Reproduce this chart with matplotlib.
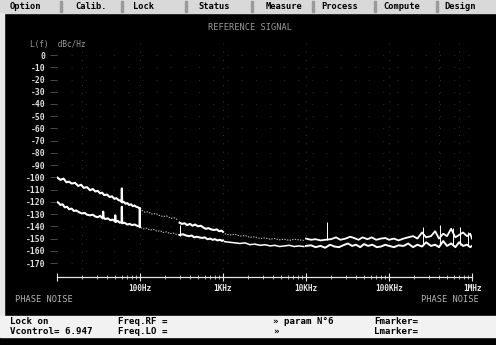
import numpy as np
import matplotlib.pyplot as plt
from matplotlib.patches import Rectangle
from matplotlib.ticker import FixedLocator, NullFormatter

# ---- trace data: offset frequency (Hz) and L(f) (dBc/Hz) ----
# upper trace, 10 Hz - 100 Hz
fa1 = [10, 11, 12, 13, 14, 15, 16.5, 18, 19.5, 21, 23, 25, 27, 29, 31, 33, 35, 37,
       40, 43, 46, 49, 52, 55, 58, 60, 60.4, 61, 64, 67, 70, 74, 78, 82, 86, 90, 95, 100]
la1 = [-100, -102, -101, -104, -103.5, -105, -104.5, -107, -106, -108.5, -108, -110.5,
       -109.5, -111.5, -111, -113, -112.5, -114.5, -114, -116, -115.5, -117.5, -117,
       -118.5, -119, -120, -109, -120.5, -120, -121.5, -121, -122.5, -122, -123.5, -123,
       -124, -124.5, -125.5]
# upper trace, 100 Hz - 300 Hz (dim)
fa2 = [105, 115, 125, 140, 155, 170, 190, 210, 235, 260, 290]
la2 = [-127, -128.5, -128, -130, -129.5, -131, -132, -131.5, -133.5, -133, -135]
# upper trace, 300 Hz - 1 kHz
fa3 = [300, 320, 345, 370, 400, 430, 460, 500, 540, 580, 620, 670, 720, 780, 840, 900, 960, 1000]
la3 = [-137, -138, -137.5, -139, -138, -139.5, -138.5, -140, -139.5, -141, -142, -141.5,
       -142.5, -143, -142.5, -144, -143.5, -144.5]
# upper trace, 1 kHz - 10 kHz (dim)
fa4 = [1050, 1200, 1400, 1600, 1850, 2100, 2400, 2800, 3200, 3700, 4200, 4800, 5500,
       6300, 7200, 8200, 9400]
la4 = [-146, -147, -146.5, -148, -147.5, -149, -148.5, -150, -149.5, -150.5, -150, -151,
       -150.5, -151.5, -150.5, -151, -151.5]
# upper trace, 10 kHz - 1 MHz
fa5 = [10000, 11500, 13000, 15000, 17000, 20000, 23000, 26000, 30000, 34000, 38000,
       43000, 48000, 55000, 62000, 70000, 80000, 90000, 100000, 115000, 130000, 150000,
       170000, 195000, 220000, 250000, 280000, 320000, 360000, 400000, 450000, 500000,
       560000, 630000, 700000, 780000, 870000, 950000, 1000000]
la5 = [-150, -151, -150.5, -151.5, -151, -150.5, -149, -151, -150, -148.5, -149.5, -151,
       -149, -150.5, -149, -151, -150, -149.5, -151, -150, -151.5, -150, -149, -148, -150,
       -145, -149, -148, -144, -150, -146, -148, -142, -149, -147, -145, -148, -146, -150]

# lower trace, 10 Hz - 100 Hz
fb1 = [10, 10.5, 11, 11.7, 12.4, 13.2, 14, 15, 16, 17, 18.5, 20, 21.5, 23, 25, 27, 29,
       31, 33, 35.5, 36, 36.5, 38, 41, 44, 47, 50, 50.3, 51, 54, 57, 60, 60.4, 61, 65,
       70, 75, 80, 86, 92, 96, 99, 99.5, 100]
lb1 = [-120, -121, -122.5, -122, -124.5, -124, -126, -125.5, -127.5, -127, -128.5,
       -129.5, -129, -130.5, -131, -130.5, -132, -132.5, -131.5, -133.5, -128, -133, -134,
       -133.5, -135, -134.5, -136, -131, -136.5, -135.5, -137, -136.5, -124, -137.5, -137,
       -138.5, -138, -139, -138.5, -139.5, -140, -139.5, -125, -140.5]
# lower trace, 100 Hz - 300 Hz (dim)
fb2 = [102, 110, 120, 132, 145, 160, 175, 190, 210, 230, 250, 275, 300]
lb2 = [-141, -142, -141.5, -143, -142.5, -144, -143.5, -145, -144.5, -146, -145.5,
       -146.5, -147]
# lower trace, 300 Hz - 1 kHz
fb3 = [300, 330, 360, 390, 420, 450, 480, 520, 560, 600, 650, 700, 750, 800, 860, 920, 980, 1000]
lb3 = [-147, -146.5, -147.5, -148, -147.5, -149, -148.5, -149, -149.5, -149, -150.5,
       -150, -151, -150.5, -151.5, -151, -152, -151.5]
# lower trace, 1 kHz - 10 kHz
fb4 = [1050, 1200, 1400, 1600, 1850, 2100, 2400, 2800, 3200, 3700, 4200, 4800, 5500,
       6300, 7200, 8200, 9400]
lb4 = [-152.5, -153, -153.5, -154, -153.5, -155, -154.5, -155.5, -155, -156, -155.5,
       -156.5, -156, -155.5, -156.5, -156, -156.5]
# lower trace, 10 kHz - 1 MHz
fb5 = [10000, 11500, 13000, 15000, 17000, 19500, 22000, 25000, 28000, 32000, 36000,
       40000, 45000, 50000, 56000, 63000, 71000, 80000, 90000, 100000, 115000, 130000,
       150000, 170000, 195000, 220000, 250000, 280000, 320000, 360000, 400000, 450000,
       500000, 560000, 630000, 700000, 780000, 870000, 950000, 1000000]
lb5 = [-156, -155.5, -157, -156, -157.5, -155, -156.5, -157, -155.5, -154, -156, -155,
       -157, -154.5, -156, -155, -157, -156.5, -155, -156, -157, -155.5, -156, -154, -157,
       -155, -156.5, -153, -156, -155, -157, -152, -156, -154, -157, -153, -156, -155,
       -157, -156]

# discrete spurs (frequency, base level, peak level)
spur_f = [300, 17900, 257000, 407000, 585000, 716000, 890000]
spur_lo = [-148, -151, -155, -155, -155, -155, -155]
spur_hi = [-139, -136.5, -140.5, -139, -141, -140.5, -144.5]

ytick_vals = [0, -10, -20, -30, -40, -50, -60, -70, -80, -90, -100, -110, -120, -130,
              -140, -150, -160, -170]
xtick_vals = [10, 100, 1e3, 1e4, 1e5, 1e6]
xtick_labels = ['', '100Hz', '1KHz', '10KHz', '100KHz', '1MHz']

menu_items = ['Option', 'Calib.', 'Lock', 'Status', 'Measure', 'Process', 'Compute', 'Design']
menu_x = [10, 75, 133, 198, 266, 321, 383, 444]

W, H = 496, 345
fig = plt.figure(figsize=(W / 100, H / 100), dpi=100, facecolor='black')


def fx(x):
    return x / W


def fy(y):
    return 1 - y / H


def box(x0, y0, x1, y1, color):
    fig.patches.append(Rectangle((fx(x0), fy(y1)), (x1 - x0) / W, (y1 - y0) / H,
                                 transform=fig.transFigure, color=color, zorder=0))


mono = 'DejaVu Sans Mono'

# menu bar
box(0, 0, W, 13, '#d9d9d9')
for sx in [60, 121, 185, 251, 312, 374, 436]:
    box(sx, 1, sx + 2, 12, '#9a9a9a')
for name, x in zip(menu_items, menu_x):
    fig.text(fx(x), fy(6.5), name, family=mono, fontsize=6.3, weight='bold',
             color='black', va='center', ha='left')

# left border and status bar
box(0, 13, 4, 316, '#e8e8e8')
box(0, 316, W, 337, '#f2f2f2')
status = [(10, 322, 'Lock on'), (10, 332, 'Vcontrol= 6.947'),
          (118, 322, 'Freq.RF ='), (118, 332, 'Freq.LO ='),
          (273, 322, '» param N°6'), (273, 332, '»'),
          (374, 322, 'Fmarker='), (374, 332, 'Lmarker=')]
for x, y, s in status:
    fig.text(fx(x), fy(y), s, family=mono, fontsize=6.6, weight='bold',
             color='black', va='center', ha='left')

# screen annotations
fig.text(fx(250), fy(27), 'REFERENCE SIGNAL', family=mono, fontsize=6.2,
         color='#9a9a9a', ha='center', va='center')
fig.text(fx(30), fy(45), 'L(f)  dBc/Hz', family=mono, fontsize=5.6,
         color='#9a9a9a', ha='left', va='center')
fig.text(fx(15), fy(299), 'PHASE NOISE', family=mono, fontsize=6.2,
         color='#b4b4b4', ha='left', va='center')
fig.text(fx(479), fy(300), 'PHASE NOISE', family=mono, fontsize=6.2,
         color='#b4b4b4', ha='right', va='center')

# measurement plot
ax = fig.add_axes([fx(57), fy(277), 415 / W, (277 - 42.8) / H])
ax.set_facecolor('none')
ax.set_xscale('log')
ax.set_xlim(10, 1e6)
ax.set_ylim(-181.4, 10)
for side in ['top', 'right', 'left']:
    ax.spines[side].set_visible(False)
ax.spines['bottom'].set_color('#e6e6e6')
ax.spines['bottom'].set_linewidth(0.9)

ax.xaxis.set_major_locator(FixedLocator(xtick_vals))
ax.set_xticklabels(xtick_labels)
ax.xaxis.set_minor_formatter(NullFormatter())
ax.tick_params(axis='x', which='major', direction='inout', length=6, width=0.8,
               colors='#e6e6e6', labelsize=5.6, pad=2)
ax.tick_params(axis='x', which='minor', direction='inout', length=3, width=0.6,
               color='#d0d0d0')
for lab in ax.get_xticklabels():
    lab.set_family(mono)
    lab.set_weight('bold')

ax.set_yticks(ytick_vals)
ax.set_yticklabels([str(v) for v in ytick_vals])
ax.tick_params(axis='y', direction='out', length=5, width=0.6, color='#555555',
               labelcolor='#e0e0e0', labelsize=5.8, pad=3.5)
for lab in ax.get_yticklabels():
    lab.set_family(mono)
    lab.set_weight('bold')

# sparse dotted graticule
for v in ytick_vals:
    ax.axhline(v, color='#3c3c3c', lw=0.6, ls=(0, (1, 16)), zorder=1)
for v in [20, 100, 1e3, 1e4, 1e5, 4e5, 7e5, 1e6]:
    ax.axvline(v, color='#4a4a4a', lw=0.6, ls=(0, (1, 9)), zorder=1)

bright = dict(color='white', lw=1.5, zorder=3)
dim = dict(color='#bdbdbd', lw=0.8, ls=(0, (1.2, 1.2)), zorder=3)
ax.plot(fa1, la1, **bright)
ax.plot(fa2, la2, **dim)
ax.plot(fa3, la3, **bright)
ax.plot(fa4, la4, **dim)
ax.plot(fa5, la5, color='white', lw=1.3, zorder=3)
ax.plot(fb1, lb1, **bright)
ax.plot(fb2, lb2, **dim)
ax.plot(fb3, lb3, **bright)
ax.plot(fb4, lb4, color='white', lw=1.1, zorder=3)
ax.plot(fb5, lb5, color='white', lw=1.4, zorder=3)
ax.vlines(spur_f, spur_lo, spur_hi, color='white', lw=0.7, zorder=3)

fig.savefig('out.png', dpi=100, facecolor='black')
